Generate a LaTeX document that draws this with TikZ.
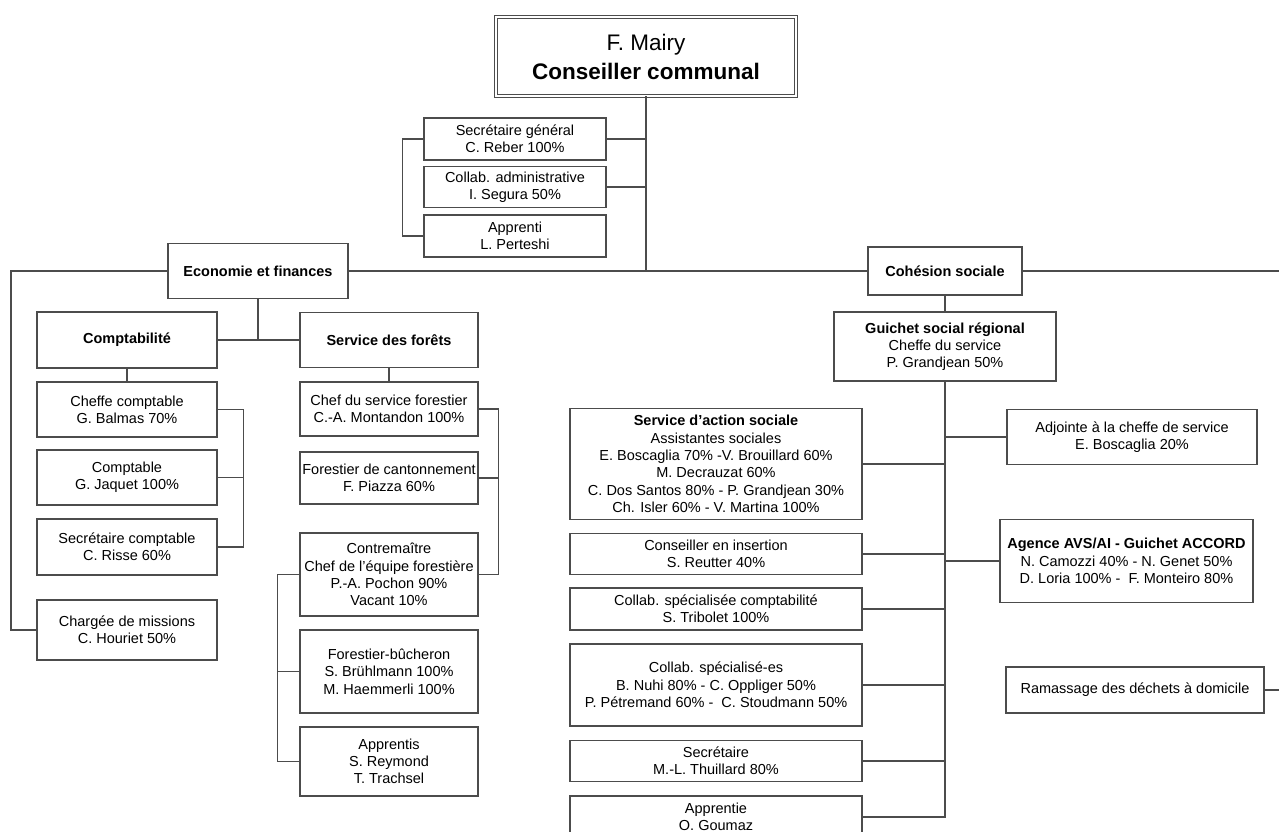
\documentclass[tikz,border=0pt]{standalone}
\usepackage{fontspec}
\setmainfont{Liberation Sans}
\begin{document}
\begin{tikzpicture}[x=1pt,y=-1pt]
\tikzstyle{box}=[draw=black!70, line width=1.1pt, fill=white, align=center, inner sep=1pt, font=\fontsize{14.5}{17.3}\selectfont]
\tikzstyle{line}=[draw=black!70, line width=1.1pt]
\tikzstyle{headbox}=[box, double, double distance=2pt, line width=0.8pt, minimum width=300pt, minimum height=79pt, font=\fontsize{22.5}{29}\selectfont]
\tikzstyle{secbox}=[box, minimum width=182pt]
\tikzstyle{compbox}=[box, minimum width=180pt]
\tikzstyle{forbox}=[box, minimum width=178pt]
\tikzstyle{socbox}=[box, minimum width=292pt]
\useasboundingbox (0,0) rectangle (1279,832);
\clip (0,0) rectangle (1279,832);
\node[headbox] (fm) at (646,56.5) {F. Mairy\\\textbf{Conseiller communal}};
\node[secbox, minimum height=42pt] (sg) at (515,139) {Secrétaire général\\C. Reber 100\%};
\node[secbox, minimum height=41pt] (ca) at (515,187) {Collab. administrative\\I. Segura 50\%};
\node[secbox, minimum height=42pt] (ap) at (515,236) {Apprenti\\L. Perteshi};
\node[box, minimum width=180pt, minimum height=55pt] (eco) at (258,271) {\textbf{Economie et finances}};
\node[box, minimum width=154pt, minimum height=48pt] (coh) at (945,271) {\textbf{Cohésion sociale}};
\node[compbox, minimum height=56pt] (comp) at (127,340) {\textbf{Comptabilité}};
\node[forbox, minimum height=55pt] (fo) at (389,340) {\textbf{Service des forêts}};
\node[compbox, minimum height=55pt] (cc) at (127,409.5) {Cheffe comptable\\G. Balmas 70\%};
\node[compbox, minimum height=55pt] (cp) at (127,477.5) {Comptable\\G. Jaquet 100\%};
\node[compbox, minimum height=56pt] (sc) at (127,547) {Secrétaire comptable\\C. Risse 60\%};
\node[compbox, minimum height=60pt] (cm) at (127,630) {Chargée de missions\\C. Houriet 50\%};
\node[forbox, minimum height=54pt] (chef) at (389,409) {Chef du service forestier\\C.-A. Montandon 100\%};
\node[forbox, minimum height=52pt] (cant) at (389,478) {Forestier de cantonnement\\F. Piazza 60\%};
\node[forbox, minimum height=83pt] (contre) at (389,574.5) {Contremaître\\Chef de l’équipe forestière\\P.-A. Pochon 90\%\\Vacant 10\%};
\node[forbox, minimum height=83pt] (buch) at (389,671.5) {Forestier-bûcheron\\S. Brühlmann 100\%\\M. Haemmerli 100\%};
\node[forbox, minimum height=69pt] (appr) at (389,761.5) {Apprentis\\S. Reymond\\T. Trachsel};
\node[box, minimum width=222pt, minimum height=69pt] (gsr) at (945,346.5) {\textbf{Guichet social régional}\\Cheffe du service\\P. Grandjean 50\%};
\node[socbox, minimum height=111pt] (sas) at (716,464) {\textbf{Service d’action sociale}\\Assistantes sociales\\E. Boscaglia 70\% -V. Brouillard 60\%\\M. Decrauzat 60\%\\C. Dos Santos 80\% - P. Grandjean 30\%\\Ch. Isler 60\% - V. Martina 100\%};
\node[socbox, minimum height=41pt] (ins) at (716,554) {Conseiller en insertion\\S. Reutter 40\%};
\node[socbox, minimum height=42pt] (tri) at (716,609) {Collab. spécialisée comptabilité\\S. Tribolet 100\%};
\node[socbox, minimum height=82pt] (spe) at (716,685) {Collab. spécialisé-es\\B. Nuhi 80\% - C. Oppliger 50\%\\P. Pétremand 60\% - \ C. Stoudmann 50\%};
\node[socbox, minimum height=41pt] (sec) at (716,761) {Secrétaire\\M.-L. Thuillard 80\%};
\node[socbox, minimum height=42pt] (apt) at (716,817) {Apprentie\\O. Goumaz};
\node[box, minimum width=250pt, minimum height=55pt] (adj) at (1132,437) {Adjointe à la cheffe de service\\E. Boscaglia 20\%};
\node[box, minimum width=253pt, minimum height=83pt] (avs) at (1126.5,561) {\textbf{Agence AVS/AI - Guichet ACCORD}\\N. Camozzi 40\% - N. Genet 50\%\\D. Loria 100\% - \ F. Monteiro 80\%};
\node[box, minimum width=258pt, minimum height=46pt] (ram) at (1135,690) {Ramassage des déchets à domicile};
\coordinate (lc) at (11,630);
\coordinate (redge) at (1279,271);
\coordinate (redgeb) at (1279,690);
\draw[line] (fm.south) -- (fm.south |- eco.east);
\draw[line] (eco.east) -- (coh.west);
\draw[line] (coh.east) -- (redge);
\draw[line] (eco.west) -| (lc) -- (cm.west);
\draw[line] (sg.east) -- (sg.east -| fm.south);
\draw[line] (ca.east) -- (ca.east -| fm.south);
\draw[line] (sg.west) -- ++(-21,0) |- (ap.west);
\draw[line] (eco.south) -- (eco.south |- comp.east);
\draw[line] (comp.east) -- (fo.west);
\draw[line] (comp.south) -- (cc.north);
\draw[line] (fo.south) -- (chef.north);
\draw[line] (cc.east) -- ++(26,0) |- (sc.east);
\draw[line] (cp.east) -- ++(26,0);
\draw[line] (chef.east) -- ++(20,0) |- (contre.east);
\draw[line] (cant.east) -- ++(20,0);
\draw[line] (contre.west) -- ++(-22,0) |- (appr.west);
\draw[line] (buch.west) -- ++(-22,0);
\draw[line] (coh.south) -- (gsr.north);
\draw[line] (gsr.south) |- (apt.east);
\foreach \n in {sas,ins,tri,spe,sec}
	\draw[line] (\n.east) -- (\n.east -| gsr.south);
\foreach \n in {adj,avs}
	\draw[line] (\n.west) -- (\n.west -| gsr.south);
\draw[line] (ram.east) -- (redgeb);
\end{tikzpicture}
\end{document}
